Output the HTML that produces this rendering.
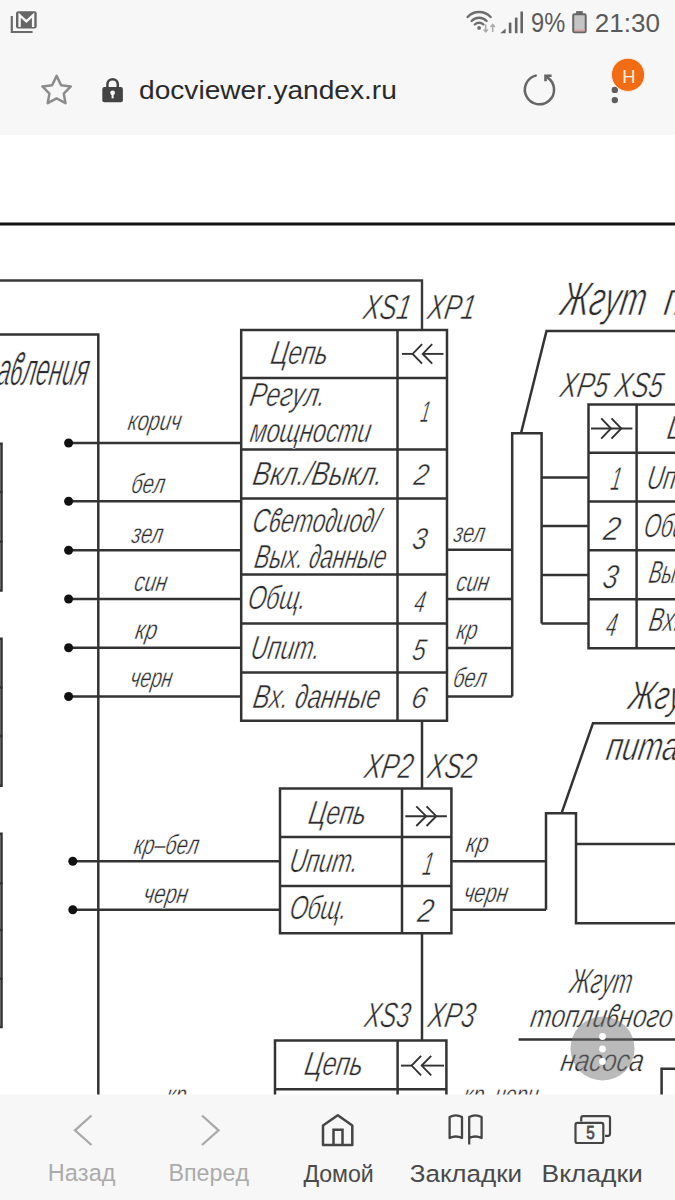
<!DOCTYPE html>
<html><head><meta charset="utf-8"><style>
html,body{margin:0;padding:0;width:675px;height:1200px;overflow:hidden;background:#fff}
svg{display:block;position:absolute;left:0;top:0}
.d text{stroke:#fff}
.c text{stroke:none}
text{font-family:"Liberation Sans",sans-serif;font-kerning:none;font-variant-ligatures:none}
</style></head><body>
<svg width="675" height="1200" viewBox="0 0 675 1200">
<rect width="675" height="1200" fill="#fff"/>
<g class="d">
<path d="M0,224 H675" stroke="#111" stroke-width="3.20" fill="none"/>
<path d="M0,280.5 H422 V330" stroke="#3a3a3a" stroke-width="2.40" fill="none"/>
<path d="M0,334.5 H98.3 V1100" stroke="#333" stroke-width="2.50" fill="none"/>
<path d="M-2,443.8 H1.5 V590.4 H-2" stroke="#333" stroke-width="2.50" fill="none"/>
<path d="M-2,492.0 H2.5" stroke="#333" stroke-width="2.50" fill="none"/>
<path d="M-2,541.7 H2.5" stroke="#333" stroke-width="2.50" fill="none"/>
<path d="M-2,638.7 H1.5 V785.7 H-2" stroke="#333" stroke-width="2.50" fill="none"/>
<path d="M-2,687.5 H2.5" stroke="#333" stroke-width="2.50" fill="none"/>
<path d="M-2,736.0 H2.5" stroke="#333" stroke-width="2.50" fill="none"/>
<path d="M-2,833.8 H1.5 V1027.0 H-2" stroke="#333" stroke-width="2.50" fill="none"/>
<path d="M-2,883.3 H2.5" stroke="#333" stroke-width="2.50" fill="none"/>
<path d="M-2,930.0 H2.5" stroke="#333" stroke-width="2.50" fill="none"/>
<path d="M-2,978.7 H2.5" stroke="#333" stroke-width="2.50" fill="none"/>
<path d="M241.2,330.0 H447.0 V720.8 H241.2 Z" stroke="#333" stroke-width="2.50" fill="none"/>
<path d="M397.5,330.0 V720.8" stroke="#333" stroke-width="2.50" fill="none"/>
<path d="M241.2,378.0 H447.0" stroke="#333" stroke-width="2.50" fill="none"/>
<path d="M241.2,449.6 H447.0" stroke="#333" stroke-width="2.50" fill="none"/>
<path d="M241.2,498.6 H447.0" stroke="#333" stroke-width="2.50" fill="none"/>
<path d="M241.2,574.5 H447.0" stroke="#333" stroke-width="2.50" fill="none"/>
<path d="M241.2,623.6 H447.0" stroke="#333" stroke-width="2.50" fill="none"/>
<path d="M241.2,672.5 H447.0" stroke="#333" stroke-width="2.50" fill="none"/>
<path d="M68.6,443.0 H241.2" stroke="#333" stroke-width="2.50" fill="none"/>
<circle cx="68.6" cy="443.0" r="4.5" fill="#111"/>
<path d="M68.6,501.2 H241.2" stroke="#333" stroke-width="2.50" fill="none"/>
<circle cx="68.6" cy="501.2" r="4.5" fill="#111"/>
<path d="M68.6,550.2 H241.2" stroke="#333" stroke-width="2.50" fill="none"/>
<circle cx="68.6" cy="550.2" r="4.5" fill="#111"/>
<path d="M68.6,599.0 H241.2" stroke="#333" stroke-width="2.50" fill="none"/>
<circle cx="68.6" cy="599.0" r="4.5" fill="#111"/>
<path d="M68.6,647.8 H241.2" stroke="#333" stroke-width="2.50" fill="none"/>
<circle cx="68.6" cy="647.8" r="4.5" fill="#111"/>
<path d="M68.6,696.5 H241.2" stroke="#333" stroke-width="2.50" fill="none"/>
<circle cx="68.6" cy="696.5" r="4.5" fill="#111"/>
<path d="M447,549.8 H512.2" stroke="#333" stroke-width="2.50" fill="none"/>
<path d="M447,599.0 H512.2" stroke="#333" stroke-width="2.50" fill="none"/>
<path d="M447,648.0 H512.2" stroke="#333" stroke-width="2.50" fill="none"/>
<path d="M447,696.5 H512.2" stroke="#333" stroke-width="2.50" fill="none"/>
<path d="M512.2,696.5 V433.2 H541.6 V623.5" stroke="#333" stroke-width="2.50" fill="none"/>
<path d="M541.6,477.5 H588.5" stroke="#333" stroke-width="2.50" fill="none"/>
<path d="M541.6,526.0 H588.5" stroke="#333" stroke-width="2.50" fill="none"/>
<path d="M541.6,575.0 H588.5" stroke="#333" stroke-width="2.50" fill="none"/>
<path d="M541.6,623.5 H588.5" stroke="#333" stroke-width="2.50" fill="none"/>
<path d="M521,433.2 L546.5,331 H680" stroke="#333" stroke-width="2.50" fill="none"/>
<path d="M680,404.5 H588.5 V648.3 H680" stroke="#333" stroke-width="2.50" fill="none"/>
<path d="M636.6,404.5 V648.3" stroke="#333" stroke-width="2.50" fill="none"/>
<path d="M588.5,452.7 H680" stroke="#333" stroke-width="2.50" fill="none"/>
<path d="M588.5,501.6 H680" stroke="#333" stroke-width="2.50" fill="none"/>
<path d="M588.5,550.2 H680" stroke="#333" stroke-width="2.50" fill="none"/>
<path d="M588.5,599.2 H680" stroke="#333" stroke-width="2.50" fill="none"/>
<path d="M422,720.8 V788.6" stroke="#333" stroke-width="2.50" fill="none"/>
<path d="M422,933.3 V1040.5" stroke="#333" stroke-width="2.50" fill="none"/>
<path d="M280.0,788.6 H451.4 V933.3 H280.0 Z" stroke="#333" stroke-width="2.50" fill="none"/>
<path d="M402.0,788.6 V933.3" stroke="#333" stroke-width="2.50" fill="none"/>
<path d="M280.0,837.0 H451.4" stroke="#333" stroke-width="2.50" fill="none"/>
<path d="M280.0,886.0 H451.4" stroke="#333" stroke-width="2.50" fill="none"/>
<path d="M72.8,861.2 H280" stroke="#333" stroke-width="2.50" fill="none"/>
<circle cx="72.8" cy="861.2" r="4.5" fill="#111"/>
<path d="M451.4,861.2 H546" stroke="#333" stroke-width="2.50" fill="none"/>
<path d="M72.8,909.8 H280" stroke="#333" stroke-width="2.50" fill="none"/>
<circle cx="72.8" cy="909.8" r="4.5" fill="#111"/>
<path d="M451.4,909.8 H546" stroke="#333" stroke-width="2.50" fill="none"/>
<path d="M546,909.8 V813.3 H576 V923.3 H680" stroke="#333" stroke-width="2.50" fill="none"/>
<path d="M576,844 H680" stroke="#333" stroke-width="2.50" fill="none"/>
<path d="M561.5,813.3 L593,723.2 H680" stroke="#333" stroke-width="2.50" fill="none"/>
<path d="M275,1110 V1040.5 H446.4 V1110" stroke="#333" stroke-width="2.50" fill="none"/>
<path d="M397.6,1040.5 V1110" stroke="#333" stroke-width="2.50" fill="none"/>
<path d="M275,1089.2 H446.4" stroke="#333" stroke-width="2.50" fill="none"/>
<path d="M518.6,1039.6 H680" stroke="#333" stroke-width="2.50" fill="none"/>
<path d="M661.6,1110 V1068.8 H680" stroke="#333" stroke-width="2.50" fill="none"/>
<path d="M401.9,353.9 H412.6" stroke="#333" stroke-width="1.90" fill="none"/>
<path d="M422.7,353.9 H443.5" stroke="#333" stroke-width="1.90" fill="none"/>
<path d="M422.1,344.2 L412.6,353.9 L422.1,363.6" stroke="#333" stroke-width="1.90" fill="none"/>
<path d="M432.2,344.2 L422.7,353.9 L432.2,363.6" stroke="#333" stroke-width="1.90" fill="none"/>
<path d="M400.9,1065.6 H411.6" stroke="#333" stroke-width="1.90" fill="none"/>
<path d="M421.7,1065.6 H444.0" stroke="#333" stroke-width="1.90" fill="none"/>
<path d="M421.1,1055.9 L411.6,1065.6 L421.1,1075.3" stroke="#333" stroke-width="1.90" fill="none"/>
<path d="M431.2,1055.9 L421.7,1065.6 L431.2,1075.3" stroke="#333" stroke-width="1.90" fill="none"/>
<path d="M405.3,816.2 H446.9" stroke="#333" stroke-width="1.90" fill="none"/>
<path d="M416.3,806.4 L426.1,816.2 L416.3,826.0" stroke="#333" stroke-width="1.90" fill="none"/>
<path d="M426.5,806.4 L436.3,816.2 L426.5,826.0" stroke="#333" stroke-width="1.90" fill="none"/>
<path d="M591.0,428.5 H632.4" stroke="#333" stroke-width="1.90" fill="none"/>
<path d="M601.2,418.3 L611.0,428.5 L601.2,438.7" stroke="#333" stroke-width="1.90" fill="none"/>
<path d="M611.5,418.3 L621.3,428.5 L611.5,438.7" stroke="#333" stroke-width="1.90" fill="none"/>
<text x="-4.42" y="385.00" font-size="46.00" font-style="italic" fill="#2b2b2b" textLength="91.11" lengthAdjust="spacingAndGlyphs" transform="translate(0,385.00) skewX(-10.00) translate(0,-385.00)" stroke-width="0.69">аϐленuя</text>
<text x="361.88" y="319.20" font-size="35.00" font-style="italic" fill="#2b2b2b" textLength="47.41" lengthAdjust="spacingAndGlyphs" transform="translate(0,319.20) skewX(-10.00) translate(0,-319.20)" stroke-width="0.52">XS1</text>
<text x="426.18" y="319.20" font-size="35.00" font-style="italic" fill="#2b2b2b" textLength="47.41" lengthAdjust="spacingAndGlyphs" transform="translate(0,319.20) skewX(-10.00) translate(0,-319.20)" stroke-width="0.52">XP1</text>
<text x="559.06" y="314.80" font-size="47.50" font-style="italic" fill="#2b2b2b" textLength="85.11" lengthAdjust="spacingAndGlyphs" transform="translate(0,314.80) skewX(-10.00) translate(0,-314.80)" stroke-width="0.71">Жгуm</text>
<text x="662.76" y="314.80" font-size="47.50" font-style="italic" fill="#2b2b2b" textLength="133.60" lengthAdjust="spacingAndGlyphs" transform="translate(0,314.80) skewX(-10.00) translate(0,-314.80)" stroke-width="0.71">пumанuя</text>
<text x="269.56" y="364.30" font-size="33.50" font-style="italic" fill="#2b2b2b" textLength="56.77" lengthAdjust="spacingAndGlyphs" transform="translate(0,364.30) skewX(-10.00) translate(0,-364.30)" stroke-width="0.50">Цепь</text>
<text x="248.54" y="405.80" font-size="33.50" font-style="italic" fill="#2b2b2b" textLength="75.35" lengthAdjust="spacingAndGlyphs" transform="translate(0,405.80) skewX(-10.00) translate(0,-405.80)" stroke-width="0.50">Регул.</text>
<text x="248.91" y="441.60" font-size="33.50" font-style="italic" fill="#2b2b2b" textLength="120.65" lengthAdjust="spacingAndGlyphs" transform="translate(0,441.60) skewX(-10.00) translate(0,-441.60)" stroke-width="0.50">мощносmu</text>
<text x="419.39" y="422.00" font-size="30.00" font-style="italic" fill="#2b2b2b" textLength="8.90" lengthAdjust="spacingAndGlyphs" transform="translate(0,422.00) skewX(-10.00) translate(0,-422.00)" stroke-width="0.45">1</text>
<text x="251.60" y="485.50" font-size="33.50" font-style="italic" fill="#2b2b2b" textLength="129.46" lengthAdjust="spacingAndGlyphs" transform="translate(0,485.50) skewX(-10.00) translate(0,-485.50)" stroke-width="0.50">Вкл./Выкл.</text>
<text x="412.85" y="485.50" font-size="30.00" font-style="italic" fill="#2b2b2b" textLength="14.44" lengthAdjust="spacingAndGlyphs" transform="translate(0,485.50) skewX(-10.00) translate(0,-485.50)" stroke-width="0.45">2</text>
<text x="251.38" y="532.30" font-size="33.50" font-style="italic" fill="#2b2b2b" textLength="127.07" lengthAdjust="spacingAndGlyphs" transform="translate(0,532.30) skewX(-10.00) translate(0,-532.30)" stroke-width="0.50">Сϐеmо∂uо∂/</text>
<text x="253.31" y="568.10" font-size="33.50" font-style="italic" fill="#2b2b2b" textLength="131.47" lengthAdjust="spacingAndGlyphs" transform="translate(0,568.10) skewX(-10.00) translate(0,-568.10)" stroke-width="0.50">Вых. ∂анные</text>
<text x="411.23" y="549.40" font-size="30.00" font-style="italic" fill="#2b2b2b" textLength="14.28" lengthAdjust="spacingAndGlyphs" transform="translate(0,549.40) skewX(-10.00) translate(0,-549.40)" stroke-width="0.45">3</text>
<text x="246.68" y="608.60" font-size="33.50" font-style="italic" fill="#2b2b2b" textLength="57.76" lengthAdjust="spacingAndGlyphs" transform="translate(0,608.60) skewX(-10.00) translate(0,-608.60)" stroke-width="0.50">Общ.</text>
<text x="413.26" y="611.70" font-size="30.00" font-style="italic" fill="#2b2b2b" textLength="10.56" lengthAdjust="spacingAndGlyphs" transform="translate(0,611.70) skewX(-10.00) translate(0,-611.70)" stroke-width="0.45">4</text>
<text x="249.61" y="658.60" font-size="33.50" font-style="italic" fill="#2b2b2b" textLength="68.83" lengthAdjust="spacingAndGlyphs" transform="translate(0,658.60) skewX(-10.00) translate(0,-658.60)" stroke-width="0.50">Uпum.</text>
<text x="411.37" y="660.00" font-size="30.00" font-style="italic" fill="#2b2b2b" textLength="13.13" lengthAdjust="spacingAndGlyphs" transform="translate(0,660.00) skewX(-10.00) translate(0,-660.00)" stroke-width="0.45">5</text>
<text x="251.64" y="708.30" font-size="33.50" font-style="italic" fill="#2b2b2b" textLength="127.05" lengthAdjust="spacingAndGlyphs" transform="translate(0,708.30) skewX(-10.00) translate(0,-708.30)" stroke-width="0.50">Вх. ∂анные</text>
<text x="410.16" y="708.30" font-size="30.00" font-style="italic" fill="#2b2b2b" textLength="15.06" lengthAdjust="spacingAndGlyphs" transform="translate(0,708.30) skewX(-10.00) translate(0,-708.30)" stroke-width="0.45">6</text>
<text x="126.97" y="430.00" font-size="27.50" font-style="italic" fill="#2b2b2b" textLength="53.15" lengthAdjust="spacingAndGlyphs" transform="translate(0,430.00) skewX(-10.00) translate(0,-430.00)" stroke-width="0.41">корuч</text>
<text x="130.30" y="493.40" font-size="27.50" font-style="italic" fill="#2b2b2b" textLength="33.45" lengthAdjust="spacingAndGlyphs" transform="translate(0,493.40) skewX(-10.00) translate(0,-493.40)" stroke-width="0.41">бел</text>
<text x="130.77" y="542.60" font-size="27.50" font-style="italic" fill="#2b2b2b" textLength="31.07" lengthAdjust="spacingAndGlyphs" transform="translate(0,542.60) skewX(-10.00) translate(0,-542.60)" stroke-width="0.41">зел</text>
<text x="133.28" y="590.90" font-size="27.50" font-style="italic" fill="#2b2b2b" textLength="32.55" lengthAdjust="spacingAndGlyphs" transform="translate(0,590.90) skewX(-10.00) translate(0,-590.90)" stroke-width="0.41">сuн</text>
<text x="134.35" y="639.30" font-size="27.50" font-style="italic" fill="#2b2b2b" textLength="21.72" lengthAdjust="spacingAndGlyphs" transform="translate(0,639.30) skewX(-10.00) translate(0,-639.30)" stroke-width="0.41">кр</text>
<text x="129.33" y="687.30" font-size="27.50" font-style="italic" fill="#2b2b2b" textLength="41.78" lengthAdjust="spacingAndGlyphs" transform="translate(0,687.30) skewX(-10.00) translate(0,-687.30)" stroke-width="0.41">черн</text>
<text x="452.87" y="541.70" font-size="27.50" font-style="italic" fill="#2b2b2b" textLength="30.76" lengthAdjust="spacingAndGlyphs" transform="translate(0,541.70) skewX(-10.00) translate(0,-541.70)" stroke-width="0.41">зел</text>
<text x="455.28" y="590.80" font-size="27.50" font-style="italic" fill="#2b2b2b" textLength="32.55" lengthAdjust="spacingAndGlyphs" transform="translate(0,590.80) skewX(-10.00) translate(0,-590.80)" stroke-width="0.41">сuн</text>
<text x="455.46" y="639.20" font-size="27.50" font-style="italic" fill="#2b2b2b" textLength="20.77" lengthAdjust="spacingAndGlyphs" transform="translate(0,639.20) skewX(-10.00) translate(0,-639.20)" stroke-width="0.41">кр</text>
<text x="452.32" y="687.50" font-size="27.50" font-style="italic" fill="#2b2b2b" textLength="33.03" lengthAdjust="spacingAndGlyphs" transform="translate(0,687.50) skewX(-10.00) translate(0,-687.50)" stroke-width="0.41">бел</text>
<text x="132.97" y="854.00" font-size="27.50" font-style="italic" fill="#2b2b2b" textLength="64.57" lengthAdjust="spacingAndGlyphs" transform="translate(0,854.00) skewX(-10.00) translate(0,-854.00)" stroke-width="0.41">кр–бел</text>
<text x="142.46" y="902.70" font-size="27.50" font-style="italic" fill="#2b2b2b" textLength="44.18" lengthAdjust="spacingAndGlyphs" transform="translate(0,902.70) skewX(-10.00) translate(0,-902.70)" stroke-width="0.41">черн</text>
<text x="465.04" y="852.30" font-size="27.50" font-style="italic" fill="#2b2b2b" textLength="22.14" lengthAdjust="spacingAndGlyphs" transform="translate(0,852.30) skewX(-10.00) translate(0,-852.30)" stroke-width="0.41">кр</text>
<text x="462.66" y="901.70" font-size="27.50" font-style="italic" fill="#2b2b2b" textLength="44.07" lengthAdjust="spacingAndGlyphs" transform="translate(0,901.70) skewX(-10.00) translate(0,-901.70)" stroke-width="0.41">черн</text>
<text x="558.78" y="397.00" font-size="35.00" font-style="italic" fill="#2b2b2b" textLength="102.61" lengthAdjust="spacingAndGlyphs" transform="translate(0,397.00) skewX(-10.00) translate(0,-397.00)" stroke-width="0.52">XP5 XS5</text>
<text x="609.84" y="490.50" font-size="33.00" font-style="italic" fill="#2b2b2b" textLength="9.79" lengthAdjust="spacingAndGlyphs" transform="translate(0,490.50) skewX(-10.00) translate(0,-490.50)" stroke-width="0.49">1</text>
<text x="602.17" y="540.00" font-size="33.00" font-style="italic" fill="#2b2b2b" textLength="16.39" lengthAdjust="spacingAndGlyphs" transform="translate(0,540.00) skewX(-10.00) translate(0,-540.00)" stroke-width="0.49">2</text>
<text x="601.41" y="587.70" font-size="33.00" font-style="italic" fill="#2b2b2b" textLength="15.02" lengthAdjust="spacingAndGlyphs" transform="translate(0,587.70) skewX(-10.00) translate(0,-587.70)" stroke-width="0.49">3</text>
<text x="604.67" y="636.30" font-size="33.00" font-style="italic" fill="#2b2b2b" textLength="10.58" lengthAdjust="spacingAndGlyphs" transform="translate(0,636.30) skewX(-10.00) translate(0,-636.30)" stroke-width="0.49">4</text>
<text x="666.06" y="439.00" font-size="33.50" font-style="italic" fill="#2b2b2b" textLength="56.91" lengthAdjust="spacingAndGlyphs" transform="translate(0,439.00) skewX(-10.00) translate(0,-439.00)" stroke-width="0.50">Цепь</text>
<text x="645.66" y="489.00" font-size="33.50" font-style="italic" fill="#2b2b2b" textLength="66.96" lengthAdjust="spacingAndGlyphs" transform="translate(0,489.00) skewX(-10.00) translate(0,-489.00)" stroke-width="0.50">Uпum.</text>
<text x="642.71" y="537.00" font-size="33.50" font-style="italic" fill="#2b2b2b" textLength="52.94" lengthAdjust="spacingAndGlyphs" transform="translate(0,537.00) skewX(-10.00) translate(0,-537.00)" stroke-width="0.50">Общ.</text>
<text x="647.81" y="583.00" font-size="32.00" font-style="italic" fill="#2b2b2b" textLength="113.31" lengthAdjust="spacingAndGlyphs" transform="translate(0,583.00) skewX(-10.00) translate(0,-583.00)" stroke-width="0.48">Вых. ∂анные</text>
<text x="647.74" y="631.00" font-size="33.50" font-style="italic" fill="#2b2b2b" textLength="110.75" lengthAdjust="spacingAndGlyphs" transform="translate(0,631.00) skewX(-10.00) translate(0,-631.00)" stroke-width="0.50">Вх. ∂анные</text>
<text x="626.97" y="708.70" font-size="40.00" font-style="italic" fill="#2b2b2b" textLength="79.00" lengthAdjust="spacingAndGlyphs" transform="translate(0,708.70) skewX(-10.00) translate(0,-708.70)" stroke-width="0.60">Жгуm</text>
<text x="604.92" y="760.10" font-size="40.00" font-style="italic" fill="#2b2b2b" textLength="119.12" lengthAdjust="spacingAndGlyphs" transform="translate(0,760.10) skewX(-10.00) translate(0,-760.10)" stroke-width="0.60">пumанuя</text>
<text x="362.89" y="777.80" font-size="35.00" font-style="italic" fill="#2b2b2b" textLength="48.40" lengthAdjust="spacingAndGlyphs" transform="translate(0,777.80) skewX(-10.00) translate(0,-777.80)" stroke-width="0.52">XP2</text>
<text x="426.19" y="777.80" font-size="35.00" font-style="italic" fill="#2b2b2b" textLength="48.40" lengthAdjust="spacingAndGlyphs" transform="translate(0,777.80) skewX(-10.00) translate(0,-777.80)" stroke-width="0.52">XS2</text>
<text x="307.25" y="824.00" font-size="33.50" font-style="italic" fill="#2b2b2b" textLength="57.40" lengthAdjust="spacingAndGlyphs" transform="translate(0,824.00) skewX(-10.00) translate(0,-824.00)" stroke-width="0.50">Цепь</text>
<text x="288.22" y="872.20" font-size="33.50" font-style="italic" fill="#2b2b2b" textLength="68.40" lengthAdjust="spacingAndGlyphs" transform="translate(0,872.20) skewX(-10.00) translate(0,-872.20)" stroke-width="0.50">Uпum.</text>
<text x="421.53" y="875.00" font-size="33.00" font-style="italic" fill="#2b2b2b" textLength="10.07" lengthAdjust="spacingAndGlyphs" transform="translate(0,875.00) skewX(-10.00) translate(0,-875.00)" stroke-width="0.49">1</text>
<text x="288.40" y="918.70" font-size="33.50" font-style="italic" fill="#2b2b2b" textLength="57.00" lengthAdjust="spacingAndGlyphs" transform="translate(0,918.70) skewX(-10.00) translate(0,-918.70)" stroke-width="0.50">Общ.</text>
<text x="416.56" y="922.00" font-size="33.00" font-style="italic" fill="#2b2b2b" textLength="15.26" lengthAdjust="spacingAndGlyphs" transform="translate(0,922.00) skewX(-10.00) translate(0,-922.00)" stroke-width="0.49">2</text>
<text x="363.16" y="1027.50" font-size="35.00" font-style="italic" fill="#2b2b2b" textLength="45.22" lengthAdjust="spacingAndGlyphs" transform="translate(0,1027.50) skewX(-10.00) translate(0,-1027.50)" stroke-width="0.52">XS3</text>
<text x="426.67" y="1027.50" font-size="35.00" font-style="italic" fill="#2b2b2b" textLength="46.82" lengthAdjust="spacingAndGlyphs" transform="translate(0,1027.50) skewX(-10.00) translate(0,-1027.50)" stroke-width="0.52">XP3</text>
<text x="303.24" y="1075.40" font-size="33.50" font-style="italic" fill="#2b2b2b" textLength="58.12" lengthAdjust="spacingAndGlyphs" transform="translate(0,1075.40) skewX(-10.00) translate(0,-1075.40)" stroke-width="0.50">Цепь</text>
<text x="568.42" y="993.00" font-size="35.00" font-style="italic" fill="#2b2b2b" textLength="62.20" lengthAdjust="spacingAndGlyphs" transform="translate(0,993.00) skewX(-10.00) translate(0,-993.00)" stroke-width="0.52">Жгуm</text>
<text x="529.19" y="1027.20" font-size="32.00" font-style="italic" fill="#2b2b2b" textLength="142.13" lengthAdjust="spacingAndGlyphs" transform="translate(0,1027.20) skewX(-10.00) translate(0,-1027.20)" stroke-width="0.48">mоплuϐного</text>
<text x="559.57" y="1071.20" font-size="31.00" font-style="italic" fill="#2b2b2b" textLength="82.82" lengthAdjust="spacingAndGlyphs" transform="translate(0,1071.20) skewX(-10.00) translate(0,-1071.20)" stroke-width="0.46">насоса</text>
<text x="165.18" y="1104.00" font-size="27.50" font-style="italic" fill="#2b2b2b" textLength="19.71" lengthAdjust="spacingAndGlyphs" transform="translate(0,1104.00) skewX(-10.00) translate(0,-1104.00)" stroke-width="0.41">кр</text>
<text x="462.27" y="1104.00" font-size="27.50" font-style="italic" fill="#2b2b2b" textLength="74.76" lengthAdjust="spacingAndGlyphs" transform="translate(0,1104.00) skewX(-10.00) translate(0,-1104.00)" stroke-width="0.41">кр–черн</text>
<circle cx="602.5" cy="1048.5" r="32" fill="rgba(110,110,110,0.48)"/>
<circle cx="602.5" cy="1036.5" r="3.4" fill="#fff"/>
<circle cx="602.5" cy="1049.0" r="3.4" fill="#fff"/>
<circle cx="602.5" cy="1061.5" r="3.4" fill="#fff"/>
</g>
<g class="c"><rect x="0" y="0" width="675" height="135" fill="#f7f7f7"/>
<rect x="0" y="1094.5" width="675" height="106" fill="#f7f7f7"/>
<path d="M11.8,16 V32 H32.6" stroke="#6a6a6a" stroke-width="2.2" fill="none"/>
<rect x="16" y="11.3" width="20.7" height="17.2" rx="2.2" fill="#666"/>
<path d="M19.6,27 V15.2 L26.35,21.3 L33.1,15.2 V27" stroke="#f7f7f7" stroke-width="2.4" fill="none" stroke-linejoin="miter"/>
<g fill="none" stroke="#6e6e6e" stroke-width="2.4" stroke-linecap="round"><path d="M467.6,17 A15.7,15.7 0 0 1 490.6,17"/><path d="M471.6,21 A10.3,10.3 0 0 1 486.6,21"/><path d="M474.8,24.5 A6,6 0 0 1 483.4,24.5"/></g>
<circle cx="479.1" cy="27.9" r="1.9" fill="#6e6e6e"/>
<path d="M485.7,24.5 v7.5 M483.6,29.5 l2.1,2.4 l2.1,-2.4 M492.7,32 v-7.5 M490.6,26.9 l2.1,-2.4 l2.1,2.4" stroke="#aaa" stroke-width="1.5" fill="none"/>
<path d="M500.3,33.2 L505.6,28.4 V33.2 Z" fill="#666"/>
<rect x="508.8" y="22.6" width="2.6" height="10.6" fill="#666"/>
<rect x="514.9" y="17.6" width="2.6" height="15.6" fill="#666"/>
<rect x="520.4" y="11.5" width="2.6" height="21.7" fill="#666"/>
<text x="531.09" y="32.30" font-size="27.00" font-style="normal" fill="#5a5a5a" textLength="34.15" lengthAdjust="spacingAndGlyphs">9%</text>
<rect x="573.2" y="14.3" width="12.5" height="18" rx="1.2" fill="#c4c4c4" stroke="#666" stroke-width="2"/>
<rect x="576.2" y="11.1" width="6.6" height="3.2" fill="#666"/>
<rect x="574.2" y="29.5" width="10.5" height="1.8" fill="#d9a0a0"/>
<text x="594.79" y="31.60" font-size="26.00" font-style="normal" fill="#5a5a5a" textLength="65.13" lengthAdjust="spacingAndGlyphs">21:30</text>
<path d="M56.6,75.9 L61.1,85.3 L70.8,86.4 L63.8,93.6 L65.5,103.2 L56.6,98.4 L47.7,103.2 L49.4,93.6 L42.4,86.4 L52.1,85.3 Z" fill="none" stroke="#8c8c8c" stroke-width="2.5" stroke-linejoin="round"/>
<path d="M107.4,88 V84.4 A5.2,5.2 0 0 1 117.8,84.4 V88" fill="none" stroke="#444" stroke-width="2.5"/>
<rect x="102.3" y="87" width="20.6" height="15.2" rx="2" fill="#444"/>
<circle cx="112.6" cy="92.8" r="2.4" fill="#f7f7f7"/><rect x="111.6" y="93" width="2" height="5.4" fill="#f7f7f7"/>
<text x="139.02" y="99.30" font-size="26.50" font-style="normal" fill="#2a2a2a" textLength="257.85" lengthAdjust="spacingAndGlyphs">docviewer.yandex.ru</text>
<path d="M535.7,75.6 A14.6,14.6 0 1 0 547.6,77.6" fill="none" stroke="#666" stroke-width="2.5" stroke-linecap="round"/>
<path d="M551.6,75.8 H545.5 V81.2" fill="none" stroke="#666" stroke-width="2.6"/>
<circle cx="614.8" cy="89.9" r="3.2" fill="#5e5e5e"/>
<circle cx="614.8" cy="100.1" r="3.2" fill="#5e5e5e"/>
<circle cx="628" cy="74.8" r="16.6" fill="#f26c14" stroke="#fbeee4" stroke-width="1"/>
<text x="622.19" y="82.70" font-size="19.00" font-style="normal" fill="#fff3e6" textLength="13.32" lengthAdjust="spacingAndGlyphs">Н</text>
<path d="M91.5,1115.5 L75,1130.3 L91.5,1145" fill="none" stroke="#a9a9a9" stroke-width="2.3"/>
<path d="M202,1115.5 L218.5,1130.3 L202,1145" fill="none" stroke="#a9a9a9" stroke-width="2.3"/>
<text x="47.87" y="1181.30" font-size="24.50" font-style="normal" fill="#ababab" textLength="67.53" lengthAdjust="spacingAndGlyphs">Назад</text>
<text x="168.49" y="1181.30" font-size="24.50" font-style="normal" fill="#ababab" textLength="80.51" lengthAdjust="spacingAndGlyphs">Вперед</text>
<path d="M323,1145 V1125.5 L337.8,1115.3 L352.3,1125.5 V1145 Z" fill="none" stroke="#454545" stroke-width="2.5" stroke-linejoin="round"/>
<path d="M333.5,1145 V1129.8 H342.5 V1145" fill="none" stroke="#454545" stroke-width="2.5"/>
<path d="M449.6,1117 Q455.8,1113.6 462,1117 V1138 Q455.8,1135 449.6,1138 Z M469.2,1117 Q475.4,1113.6 481.6,1117 V1138 Q475.4,1135 469.2,1138 Z M469.2,1137 V1144.6" fill="none" stroke="#454545" stroke-width="2.3" stroke-linejoin="round"/>
<path d="M581.2,1121.5 V1118 Q581.2,1116.1 583.2,1116.1 H608 Q610,1116.1 610,1118 V1133.8 Q610,1135.8 608,1135.8 H605" fill="none" stroke="#454545" stroke-width="2.2"/>
<rect x="575.5" y="1122.9" width="27.8" height="20.1" rx="1.8" fill="none" stroke="#454545" stroke-width="2.2"/>
<text x="586.19" y="1138.70" font-size="18.50" font-style="normal" fill="#505050" textLength="8.45" lengthAdjust="spacingAndGlyphs" style="stroke:#505050;stroke-width:0.8px">5</text>
<text x="303.53" y="1181.80" font-size="24.50" font-style="normal" fill="#4a4a4a" textLength="70.27" lengthAdjust="spacingAndGlyphs">Домой</text>
<text x="409.75" y="1181.80" font-size="24.50" font-style="normal" fill="#4a4a4a" textLength="112.36" lengthAdjust="spacingAndGlyphs">Закладки</text>
<text x="541.63" y="1181.80" font-size="24.50" font-style="normal" fill="#4a4a4a" textLength="101.10" lengthAdjust="spacingAndGlyphs">Вкладки</text></g>
</svg>
</body></html>
